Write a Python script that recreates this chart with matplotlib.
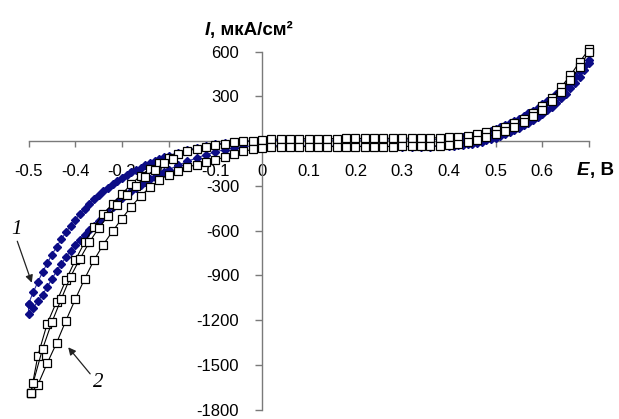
import matplotlib
matplotlib.use('Agg')
import matplotlib.pyplot as plt

plt.rcParams['font.family'] = ['Liberation Sans', 'DejaVu Sans']

# ---------------- data ----------------
# Series 1 (blue diamonds): potential grid and two sweep branches
E1 = [-0.50, -0.49, -0.48, -0.47, -0.46, -0.45, -0.44, -0.43, -0.42, -0.41,
      -0.40, -0.39, -0.38, -0.37, -0.36, -0.35, -0.34, -0.33, -0.32, -0.31,
      -0.30, -0.29, -0.28, -0.27, -0.26, -0.25, -0.24, -0.23, -0.22, -0.21,
      -0.20,
      -0.18, -0.16, -0.14, -0.12, -0.10, -0.08, -0.06, -0.04, -0.02, 0.00,
      0.02, 0.04, 0.06, 0.08, 0.10, 0.12, 0.14, 0.16, 0.18, 0.20,
      0.22, 0.24, 0.26, 0.28, 0.30, 0.32, 0.34, 0.36, 0.38, 0.40,
      0.41, 0.42, 0.43, 0.44, 0.45, 0.46, 0.47, 0.48, 0.49, 0.50,
      0.51, 0.52, 0.53, 0.54, 0.55, 0.56, 0.57, 0.58, 0.59, 0.60,
      0.61, 0.62, 0.63, 0.64, 0.65, 0.66, 0.67, 0.68, 0.69, 0.70]
I1_up = [-1090, -1015, -945, -880, -820, -763, -710, -660, -613, -569,
         -528, -490, -455, -422, -392, -364, -338, -313, -290, -268,
         -248, -229, -211, -194, -178, -163, -149, -135, -122, -110,
         -99,
         -78, -60, -45, -32, -21, -13, -7, -3, 0, 2,
         3, 4, 4, 5, 5, 5, 5, 6, 6, 6,
         6, 7, 7, 7, 8, 8, 9, 10, 12, 15,
         17, 20, 24, 29, 35, 42, 50, 59, 69, 80,
         92, 105, 119, 134, 150, 167, 185, 204, 224, 245,
         267, 291, 316, 343, 372, 403, 436, 470, 505, 540]
I1_dn = [-1160, -1120, -1075, -1030, -980, -925, -873, -825, -780, -738,
         -698, -661, -628, -597, -567, -537, -505, -473, -442, -412,
         -385, -360, -337, -315, -294, -275, -257, -240, -223, -207,
         -192,
         -163, -137, -113, -92, -73, -58, -46, -38, -33, -30,
         -30, -31, -32, -32, -33, -33, -34, -34, -35, -35,
         -35, -36, -36, -36, -37, -37, -37, -37, -36, -34,
         -32, -29, -26, -22, -17, -11, -4, 4, 13, 23,
         34, 46, 59, 73, 88, 104, 121, 140, 160, 182,
         205, 230, 257, 286, 318, 353, 390, 430, 475, 525]

# Series 2 (white squares): potential grid, left and right branches
E2 = [-0.495, -0.48, -0.46, -0.44, -0.42, -0.40, -0.38, -0.36, -0.34, -0.32,
      -0.30, -0.28, -0.26, -0.24, -0.22, -0.20, -0.18, -0.16, -0.14, -0.12,
      -0.10, -0.08, -0.06, -0.04, -0.02, 0.00, 0.02, 0.04, 0.06, 0.08,
      0.10, 0.12, 0.14, 0.16, 0.18, 0.20, 0.22, 0.24, 0.26, 0.28,
      0.30, 0.32, 0.34, 0.36, 0.38, 0.40, 0.42, 0.44, 0.46, 0.48,
      0.50, 0.52, 0.54, 0.56, 0.58, 0.60, 0.62, 0.64, 0.66, 0.68, 0.70]
I2_left = [-1690, -1440, -1225, -1078, -933, -800, -680, -575, -490, -420,
           -355, -290, -232, -185, -148, -116, -90, -68, -51, -38,
           -27, -17, -9, -3, 2, 7, 11, 13, 14, 15,
           15, 16, 16, 16, 17, 17, 17, 17, 18, 18,
           18, 19, 20, 21, 22, 25, 29, 36, 46, 58,
           74, 95, 118, 148, 186, 232, 290, 360, 440, 530, 615]
I2_right = [-1690, -1635, -1490, -1355, -1205, -1062, -925, -800, -695, -605,
            -520, -440, -370, -310, -262, -225, -198, -176, -158, -142,
            -127, -108, -88, -70, -56, -46, -40, -38, -38, -37,
            -37, -37, -37, -37, -37, -37, -37, -37, -37, -37,
            -36, -36, -35, -34, -32, -28, -20, -8, 8, 25,
            45, 68, 95, 128, 165, 210, 265, 330, 410, 495, 600]
# second cycle of series 2 (cathodic part only)
E2_b = [-0.495, -0.49, -0.47, -0.45, -0.43, -0.41, -0.39, -0.37, -0.35,
        -0.33, -0.31, -0.29, -0.27, -0.25, -0.23, -0.21, -0.19]
I2_b = [-1690, -1620, -1395, -1215, -1060, -910, -790, -680, -585,
        -505, -432, -365, -300, -240, -192, -150, -118]

x_ticks = [-0.5, -0.4, -0.3, -0.2, -0.1, 0.0, 0.1, 0.2, 0.3, 0.4, 0.5, 0.6, 0.7]
x_tick_labels = ['-0.5', '-0.4', '-0.3', '-0.2', '-0.1', '0', '0.1', '0.2',
                 '0.3', '0.4', '0.5', '0.6', '']
y_ticks = [600, 300, 0, -300, -600, -900, -1200, -1500, -1800]
y_tick_labels = ['600', '300', '', '-300', '-600', '-900', '-1200', '-1500', '-1800']

# ---------------- figure ----------------
W, H = 619, 419
fig = plt.figure(figsize=(W / 100, H / 100), dpi=100)
x0, x1 = 28.5, 589.0
yt, yb = 51.5, 409.5
ax = fig.add_axes([x0 / W, 1 - yb / H, (x1 - x0) / W, (yb - yt) / H])
ax.set_xlim(-0.5, 0.7)
ax.set_ylim(-1800, 600)

spine_col = '#7a7a7a'
for s in ['top', 'right']:
    ax.spines[s].set_visible(False)
ax.spines['left'].set_position(('data', 0))
ax.spines['bottom'].set_position(('data', 0))
for s in ['left', 'bottom']:
    ax.spines[s].set_color(spine_col)
    ax.spines[s].set_linewidth(1.0)

ax.set_xticks(x_ticks)
ax.set_xticklabels(x_tick_labels)
ax.set_yticks(y_ticks)
ax.set_yticklabels(y_tick_labels)
ax.tick_params(axis='x', direction='out', length=4.5, width=1.0, color=spine_col,
               pad=12, labelsize=12)
ax.tick_params(axis='y', direction='out', length=5, width=1.0, color=spine_col,
               pad=11.5, labelsize=12)

# series 1
p1E = E1 + E1[::-1] + [E1[0]]
p1I = I1_up + I1_dn[::-1] + [I1_up[0]]
ax.plot(p1E, p1I, color='#2a2aa0', lw=0.8, marker='D', markersize=3.8,
        markerfacecolor='#0c0c86', markeredgecolor='#0c0c86', clip_on=False, zorder=3)

# series 2
p2E = E2 + E2[::-1]
p2I = I2_left + I2_right[::-1]
sq = dict(color='black', lw=0.8, marker='s', markersize=5.8,
          markerfacecolor='white', markeredgecolor='black', markeredgewidth=0.9,
          clip_on=False, zorder=4)
ax.plot(p2E, p2I, **sq)
ax.plot(E2_b, I2_b, **sq)

# axis titles
t1 = fig.text(205 / W, 1 - 35 / H, 'I', fontsize=13.5, fontweight='bold',
              fontstyle='italic', ha='left', va='baseline')
ax.annotate(', мкА/см²', xy=(1, 0), xycoords=t1, ha='left', va='bottom',
            fontsize=13.5, fontweight='bold', annotation_clip=False)
t2 = fig.text(577 / W, 1 - 175 / H, 'E', fontsize=13.5, fontweight='bold',
              fontstyle='italic', ha='left', va='baseline')
ax.annotate(', В', xy=(1, 0), xycoords=t2, ha='left', va='bottom',
            fontsize=13.5, fontweight='bold', annotation_clip=False)

# curve labels with arrows
serif = ['Liberation Serif', 'DejaVu Serif']
ax.text(-0.525, -595, '1', family=serif, style='italic', fontsize=15,
        ha='center', va='center', clip_on=False)
ax.annotate('', xy=(-0.493, -950), xytext=(-0.524, -672), annotation_clip=False,
            arrowprops=dict(arrowstyle='-|>', color='#222222', lw=0.9,
                            mutation_scale=11, shrinkA=0, shrinkB=0))
ax.text(-0.351, -1617, '2', family=serif, style='italic', fontsize=15,
        ha='center', va='center', clip_on=False)
ax.annotate('', xy=(-0.415, -1383), xytext=(-0.368, -1561), annotation_clip=False,
            arrowprops=dict(arrowstyle='-|>', color='#222222', lw=0.9,
                            mutation_scale=11, shrinkA=0, shrinkB=0))

fig.savefig('out.png', dpi=100, facecolor='white')
